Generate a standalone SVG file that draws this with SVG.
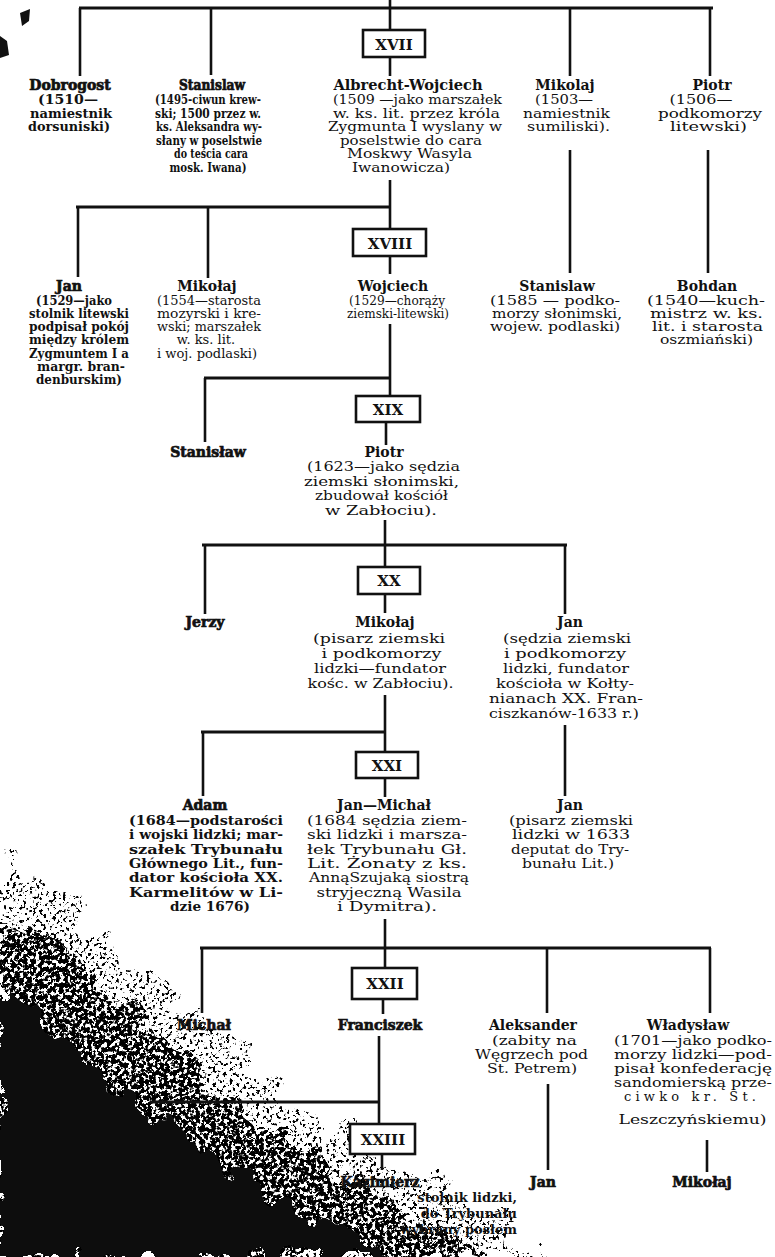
<svg xmlns="http://www.w3.org/2000/svg" width="775" height="1257" viewBox="0 0 775 1257">
<defs>
<style>
.ln{stroke:#111;stroke-width:2.6;fill:none}
.hz{stroke-width:3.2}
.box rect{fill:#fff;stroke:#111;stroke-width:2.6}
.box text{font-family:"DejaVu Serif","Liberation Serif",serif;font-weight:bold;font-size:15px;text-anchor:middle;fill:#111}
.nm{font-family:"DejaVu Serif","Liberation Serif",serif;font-weight:bold;font-size:14px;text-anchor:middle;fill:#111}
.hv{stroke:#111;stroke-width:0.7}
.d{font-family:"DejaVu Serif","Liberation Serif",serif;font-size:13px;text-anchor:middle;fill:#111}
.dh{font-weight:bold}
</style>
<filter id="sparse" x="-0.1" y="-0.1" width="1.2" height="1.2">
<feTurbulence type="fractalNoise" baseFrequency="0.035" numOctaves="2" seed="2" result="low"/>
<feDisplacementMap in="SourceGraphic" in2="low" scale="70" xChannelSelector="R" yChannelSelector="G" result="shape"/>
<feTurbulence type="fractalNoise" baseFrequency="0.3" numOctaves="3" seed="9" result="hi"/>
<feColorMatrix in="hi" type="matrix" values="0 0 0 0 0  0 0 0 0 0  0 0 0 0 0  16 0 0 0 -9.3" result="dots"/>
<feComposite in="dots" in2="shape" operator="in"/>
</filter>
<filter id="dense" x="-0.1" y="-0.1" width="1.2" height="1.2">
<feTurbulence type="fractalNoise" baseFrequency="0.04" numOctaves="2" seed="5" result="low"/>
<feDisplacementMap in="SourceGraphic" in2="low" scale="60" xChannelSelector="R" yChannelSelector="G" result="shape"/>
<feTurbulence type="fractalNoise" baseFrequency="0.25" numOctaves="3" seed="4" result="hi"/>
<feColorMatrix in="hi" type="matrix" values="0 0 0 0 0  0 0 0 0 0  0 0 0 0 0  16 0 0 0 -7.2" result="dots"/>
<feComposite in="dots" in2="shape" operator="in"/>
</filter>
<filter id="rough" x="-0.1" y="-0.1" width="1.2" height="1.2">
<feTurbulence type="fractalNoise" baseFrequency="0.05" numOctaves="2" seed="3" result="t"/>
<feDisplacementMap in="SourceGraphic" in2="t" scale="45" xChannelSelector="R" yChannelSelector="G"/>
</filter>
</defs>
<rect width="775" height="1257" fill="#fff"/>

<g id="scan-smudge">
<path d="M0 860 L50 895 L110 945 L170 995 L240 1055 L300 1105 L380 1155 L470 1205 L545 1257 L0 1257 Z" fill="#000" filter="url(#sparse)"/>
<path d="M0 915 L60 955 L120 1005 L190 1065 L260 1125 L340 1175 L430 1225 L490 1257 L0 1257 Z" fill="#000" filter="url(#dense)"/>
<path d="M0 985 L60 1035 L120 1090 L200 1150 L280 1200 L360 1240 L410 1257 L0 1257 Z" fill="#0d0d0d" filter="url(#rough)"/>
<path d="M20 13 L30 9 L29 21 L22 26 Z M0 36 L7 41 L9 55 L0 58 Z" fill="#111"/>
</g>

<g id="connectors">
<line class="ln" x1="390" y1="0" x2="390" y2="30"/>
<line class="ln hz" x1="79" y1="8" x2="713" y2="8"/>
<line class="ln" x1="80" y1="8" x2="80" y2="76"/>
<line class="ln" x1="211" y1="8" x2="211" y2="75"/>
<line class="ln" x1="570" y1="9" x2="570" y2="76"/>
<line class="ln" x1="710" y1="9" x2="710" y2="76"/>
<line class="ln" x1="390" y1="57" x2="390" y2="76"/>
<line class="ln" x1="390" y1="180" x2="390" y2="229"/>
<line class="ln" x1="570" y1="150" x2="570" y2="273"/>
<line class="ln" x1="708" y1="150" x2="708" y2="273"/>
<line class="ln hz" x1="76" y1="207" x2="390" y2="207"/>
<line class="ln" x1="78" y1="207" x2="78" y2="277"/>
<line class="ln" x1="208" y1="207" x2="208" y2="278"/>
<line class="ln" x1="390" y1="256" x2="390" y2="274"/>
<line class="ln" x1="390" y1="324" x2="390" y2="396"/>
<line class="ln hz" x1="204" y1="378" x2="390" y2="378"/>
<line class="ln" x1="205" y1="378" x2="205" y2="442"/>
<line class="ln" x1="386" y1="422" x2="386" y2="445"/>
<line class="ln" x1="385" y1="520" x2="385" y2="567"/>
<line class="ln hz" x1="202" y1="545" x2="567" y2="545"/>
<line class="ln" x1="205" y1="545" x2="205" y2="614"/>
<line class="ln" x1="565" y1="545" x2="565" y2="614"/>
<line class="ln" x1="385" y1="594" x2="385" y2="613"/>
<line class="ln" x1="385" y1="695" x2="385" y2="752"/>
<line class="ln hz" x1="201" y1="732" x2="386" y2="732"/>
<line class="ln" x1="203" y1="732" x2="203" y2="796"/>
<line class="ln" x1="565" y1="725" x2="565" y2="796"/>
<line class="ln" x1="385" y1="778" x2="385" y2="797"/>
<line class="ln" x1="385" y1="919" x2="385" y2="968"/>
<line class="ln hz" x1="200" y1="948" x2="711" y2="948"/>
<line class="ln" x1="202" y1="948" x2="202" y2="1013"/>
<line class="ln" x1="547" y1="948" x2="547" y2="1013"/>
<line class="ln" x1="710" y1="948" x2="710" y2="1013"/>
<line class="ln" x1="383" y1="999" x2="383" y2="1014"/>
<line class="ln" x1="379" y1="1036" x2="379" y2="1124"/>
<line class="ln hz" x1="150" y1="1102" x2="380" y2="1102"/>
<line class="ln" x1="382" y1="1154" x2="382" y2="1170"/>
<line class="ln" x1="548" y1="1084" x2="548" y2="1170"/>
<line class="ln" x1="707" y1="1140" x2="707" y2="1172"/>
</g>

<g id="gen-XVII" class="box"><rect x="363" y="30" width="62" height="27"/><text x="394" y="50">XVII</text></g>
<g id="gen-XVIII" class="box"><rect x="353" y="229" width="73" height="27"/><text x="390" y="249">XVIII</text></g>
<g id="gen-XIX" class="box"><rect x="356" y="396" width="64" height="26"/><text x="388" y="415">XIX</text></g>
<g id="gen-XX" class="box"><rect x="358" y="567" width="62" height="27"/><text x="389" y="586">XX</text></g>
<g id="gen-XXI" class="box"><rect x="356" y="752" width="62" height="26"/><text x="387" y="771">XXI</text></g>
<g id="gen-XXII" class="box"><rect x="352" y="968" width="65" height="31"/><text x="385" y="989">XXII</text></g>
<g id="gen-XXIII" class="box"><rect x="350" y="1124" width="65" height="30"/><text x="383" y="1145">XXIII</text></g>

<g id="dobrogost">
<text class="nm hv" x="70" y="90">Dobrogost</text>
<text class="d dh" x="68" y="104" textLength="60" lengthAdjust="spacingAndGlyphs">(1510—</text>
<text class="d dh" x="71" y="117.5" textLength="82" lengthAdjust="spacingAndGlyphs">namiestnik</text>
<text class="d dh" x="69" y="131" textLength="82" lengthAdjust="spacingAndGlyphs">dorsuniski)</text>
</g>
<g id="stanislaw-1">
<text class="nm hv" x="212" y="90" textLength="66" lengthAdjust="spacingAndGlyphs">Stanislaw</text>
<text class="d dh" x="208" y="104" textLength="106" lengthAdjust="spacingAndGlyphs">(1495-ciwun krew-</text>
<text class="d dh" x="208" y="117.5" textLength="106" lengthAdjust="spacingAndGlyphs">ski; 1500 przez w.</text>
<text class="d dh" x="209" y="131" textLength="106" lengthAdjust="spacingAndGlyphs">ks. Aleksandra wy-</text>
<text class="d dh" x="209" y="144.5" textLength="106" lengthAdjust="spacingAndGlyphs">słany w poselstwie</text>
<text class="d dh" x="211" y="158" textLength="74" lengthAdjust="spacingAndGlyphs">do teścia cara</text>
<text class="d dh" x="208" y="171.5" textLength="77" lengthAdjust="spacingAndGlyphs">mosk. Iwana)</text>
</g>
<g id="albrecht-wojciech">
<text class="nm" x="408" y="90" textLength="149" lengthAdjust="spacingAndGlyphs">Albrecht-Wojciech</text>
<text class="d" x="417.5" y="104" textLength="169" lengthAdjust="spacingAndGlyphs">(1509 —jako marszałek</text>
<text class="d" x="416.5" y="117.5" textLength="167" lengthAdjust="spacingAndGlyphs">w. ks. lit. przez króla</text>
<text class="d" x="415" y="131" textLength="174" lengthAdjust="spacingAndGlyphs">Zygmunta I wyslany w</text>
<text class="d" x="411" y="144.5" textLength="142" lengthAdjust="spacingAndGlyphs">poselstwie do cara</text>
<text class="d" x="409.5" y="158" textLength="125" lengthAdjust="spacingAndGlyphs">Moskwy Wasyla</text>
<text class="d" x="401" y="171.5" textLength="98" lengthAdjust="spacingAndGlyphs">Iwanowicza)</text>
</g>
<g id="mikolaj-1">
<text class="nm" x="565" y="90">Mikolaj</text>
<text class="d" x="564" y="104" textLength="58" lengthAdjust="spacingAndGlyphs">(1503—</text>
<text class="d" x="566.5" y="117.5" textLength="87" lengthAdjust="spacingAndGlyphs">namiestnik</text>
<text class="d" x="568.5" y="131" textLength="83" lengthAdjust="spacingAndGlyphs">sumiliski).</text>
</g>
<g id="piotr-1">
<text class="nm" x="712" y="90">Piotr</text>
<text class="d" x="701" y="104" textLength="63" lengthAdjust="spacingAndGlyphs">(1506—</text>
<text class="d" x="710" y="117.5" textLength="104" lengthAdjust="spacingAndGlyphs">podkomorzy</text>
<text class="d" x="708.5" y="131" textLength="77" lengthAdjust="spacingAndGlyphs">litewski)</text>
</g>

<g id="jan-2">
<text class="nm hv" x="69" y="291">Jan</text>
<text class="d dh" x="74" y="304.5" textLength="76" lengthAdjust="spacingAndGlyphs">(1529—jako</text>
<text class="d dh" x="79" y="317.8" textLength="100" lengthAdjust="spacingAndGlyphs">stolnik litewski</text>
<text class="d dh" x="79" y="331.1" textLength="100" lengthAdjust="spacingAndGlyphs">podpisał pokój</text>
<text class="d dh" x="79" y="344.4" textLength="100" lengthAdjust="spacingAndGlyphs">między królem</text>
<text class="d dh" x="79" y="357.7" textLength="100" lengthAdjust="spacingAndGlyphs">Zygmuntem I a</text>
<text class="d dh" x="81" y="371" textLength="88" lengthAdjust="spacingAndGlyphs">margr. bran-</text>
<text class="d dh" x="79" y="384.3" textLength="86" lengthAdjust="spacingAndGlyphs">denburskim)</text>
</g>
<g id="mikolaj-2">
<text class="nm" x="207" y="291">Mikołaj</text>
<text class="d" x="209" y="304.5" textLength="104" lengthAdjust="spacingAndGlyphs">(1554—starosta</text>
<text class="d" x="209" y="317.8" textLength="104" lengthAdjust="spacingAndGlyphs">mozyrski i kre-</text>
<text class="d" x="209" y="331.1" textLength="104" lengthAdjust="spacingAndGlyphs">wski; marszałek</text>
<text class="d" x="206" y="344.4">w. ks. lit.</text>
<text class="d" x="207" y="357.7" textLength="100" lengthAdjust="spacingAndGlyphs">i woj. podlaski)</text>
</g>
<g id="wojciech">
<text class="nm" x="393" y="291">Wojciech</text>
<text class="d" x="397" y="304.5" textLength="96" lengthAdjust="spacingAndGlyphs">(1529—chorąży</text>
<text class="d" x="398" y="317.8" textLength="102" lengthAdjust="spacingAndGlyphs">ziemski-litewski)</text>
</g>
<g id="stanislaw-2">
<text class="nm" x="557" y="291">Stanislaw</text>
<text class="d" x="555" y="304.5" textLength="130" lengthAdjust="spacingAndGlyphs">(1585 — podko-</text>
<text class="d" x="557" y="317.8" textLength="130" lengthAdjust="spacingAndGlyphs">morzy słonimski,</text>
<text class="d" x="555" y="331.1" textLength="130" lengthAdjust="spacingAndGlyphs">wojew. podlaski)</text>
</g>
<g id="bohdan">
<text class="nm" x="707" y="291">Bohdan</text>
<text class="d" x="706" y="304.5" textLength="118" lengthAdjust="spacingAndGlyphs">(1540—kuch-</text>
<text class="d" x="706.5" y="317.8" textLength="113" lengthAdjust="spacingAndGlyphs">mistrz w. ks.</text>
<text class="d" x="707.5" y="331.1" textLength="111" lengthAdjust="spacingAndGlyphs">lit. i starosta</text>
<text class="d" x="706.5" y="344.4" textLength="93" lengthAdjust="spacingAndGlyphs">oszmiański)</text>
</g>

<g id="stanislaw-3">
<text class="nm hv" x="208" y="457">Stanisław</text>
</g>
<g id="piotr-3">
<text class="nm" x="384" y="457">Piotr</text>
<text class="d" x="383.5" y="471" textLength="153" lengthAdjust="spacingAndGlyphs">(1623—jako sędzia</text>
<text class="d" x="381.5" y="485.5" textLength="155" lengthAdjust="spacingAndGlyphs">ziemski słonimski,</text>
<text class="d" x="381.5" y="500" textLength="133" lengthAdjust="spacingAndGlyphs">zbudował kościół</text>
<text class="d" x="381" y="514.5" textLength="112" lengthAdjust="spacingAndGlyphs">w Zabłociu).</text>
</g>

<g id="jerzy">
<text class="nm hv" x="205" y="627">Jerzy</text>
</g>
<g id="mikolaj-20">
<text class="nm" x="385" y="627">Mikołaj</text>
<text class="d" x="379" y="643" textLength="132" lengthAdjust="spacingAndGlyphs">(pisarz ziemski</text>
<text class="d" x="381.5" y="658" textLength="120" lengthAdjust="spacingAndGlyphs">i podkomorzy</text>
<text class="d" x="380" y="673" textLength="132" lengthAdjust="spacingAndGlyphs">lidzki—fundator</text>
<text class="d" x="380.5" y="688" textLength="146" lengthAdjust="spacingAndGlyphs">kośc. w Zabłociu).</text>
</g>
<g id="jan-20">
<text class="nm" x="570" y="627">Jan</text>
<text class="d" x="567" y="643" textLength="128" lengthAdjust="spacingAndGlyphs">(sędzia ziemski</text>
<text class="d" x="565" y="658" textLength="122" lengthAdjust="spacingAndGlyphs">i podkomorzy</text>
<text class="d" x="566" y="673" textLength="126" lengthAdjust="spacingAndGlyphs">lidzki, fundator</text>
<text class="d" x="565" y="688" textLength="138" lengthAdjust="spacingAndGlyphs">kościoła w Kołty-</text>
<text class="d" x="566" y="703" textLength="154" lengthAdjust="spacingAndGlyphs">nianach XX. Fran-</text>
<text class="d" x="564" y="718" textLength="150" lengthAdjust="spacingAndGlyphs">ciszkanów-1633 r.)</text>
</g>

<g id="adam">
<text class="nm hv" x="205" y="810">Adam</text>
<text class="d dh" x="206" y="825" textLength="154" lengthAdjust="spacingAndGlyphs">(1684—podstarości</text>
<text class="d dh" x="206" y="839.3" textLength="154" lengthAdjust="spacingAndGlyphs">i wojski lidzki; mar-</text>
<text class="d dh" x="206" y="853.6" textLength="154" lengthAdjust="spacingAndGlyphs">szałek Trybunału</text>
<text class="d dh" x="206" y="867.9" textLength="154" lengthAdjust="spacingAndGlyphs">Głównego Lit., fun-</text>
<text class="d dh" x="206" y="882.2" textLength="154" lengthAdjust="spacingAndGlyphs">dator kościoła XX.</text>
<text class="d dh" x="206" y="896.5" textLength="154" lengthAdjust="spacingAndGlyphs">Karmelitów w Li-</text>
<text class="d dh" x="210" y="910.8" textLength="80" lengthAdjust="spacingAndGlyphs">dzie 1676)</text>
</g>
<g id="jan-michal">
<text class="nm" x="384" y="810">Jan—Michał</text>
<text class="d" x="387" y="825" textLength="160" lengthAdjust="spacingAndGlyphs">(1684 sędzia ziem-</text>
<text class="d" x="387" y="839.3" textLength="160" lengthAdjust="spacingAndGlyphs">ski lidzki i marsza-</text>
<text class="d" x="387" y="853.6" textLength="160" lengthAdjust="spacingAndGlyphs">łek Trybunału Gł.</text>
<text class="d" x="387" y="867.9" textLength="160" lengthAdjust="spacingAndGlyphs">Lit. Żonaty z ks.</text>
<text class="d" x="389" y="882.2" textLength="160" lengthAdjust="spacingAndGlyphs">AnnąSzujaką siostrą</text>
<text class="d" x="389" y="896.5" textLength="145" lengthAdjust="spacingAndGlyphs">stryjeczną Wasila</text>
<text class="d" x="387" y="910.8" textLength="100" lengthAdjust="spacingAndGlyphs">i Dymitra).</text>
</g>
<g id="jan-21">
<text class="nm" x="570" y="810">Jan</text>
<text class="d" x="571" y="825" textLength="124" lengthAdjust="spacingAndGlyphs">(pisarz ziemski</text>
<text class="d" x="571" y="839.3" textLength="118" lengthAdjust="spacingAndGlyphs">lidzki w 1633</text>
<text class="d" x="570" y="853.6" textLength="118" lengthAdjust="spacingAndGlyphs">deputat do Try-</text>
<text class="d" x="568" y="867.9" textLength="92" lengthAdjust="spacingAndGlyphs">bunału Lit.)</text>
</g>

<g id="michal">
<text class="nm hv" x="204" y="1030">Michał</text>
</g>
<g id="franciszek">
<text class="nm hv" x="380" y="1030">Franciszek</text>
</g>
<g id="aleksander">
<text class="nm" x="533" y="1030">Aleksander</text>
<text class="d" x="534.5" y="1044.5" textLength="85" lengthAdjust="spacingAndGlyphs">(zabity na</text>
<text class="d" x="531.5" y="1058.5" textLength="113" lengthAdjust="spacingAndGlyphs">Węgrzech pod</text>
<text class="d" x="532" y="1072.5" textLength="90" lengthAdjust="spacingAndGlyphs">St. Petrem)</text>
</g>
<g id="wladyslaw">
<text class="nm" x="688" y="1030">Władysław</text>
<text class="d" x="693" y="1044.5" textLength="158" lengthAdjust="spacingAndGlyphs">(1701—jako podko-</text>
<text class="d" x="693" y="1058.5" textLength="158" lengthAdjust="spacingAndGlyphs">morzy lidzki—pod-</text>
<text class="d" x="693" y="1072.5" textLength="158" lengthAdjust="spacingAndGlyphs">pisał konfederację</text>
<text class="d" x="693" y="1086.5" textLength="158" lengthAdjust="spacingAndGlyphs">sandomierską prze-</text>
<text class="d" x="690" y="1100.5" textLength="132" lengthAdjust="spacing">ciwko kr. St.</text>
<text class="d" x="692.5" y="1124" textLength="148" lengthAdjust="spacingAndGlyphs">Leszczyńskiemu)</text>
</g>

<g id="kazimierz">
<text class="nm hv" x="380" y="1187">Kazimierz</text>
<text class="d dh" x="517" y="1202" style="text-anchor:end">stolnik lidzki,</text>
<text class="d dh" x="517" y="1218" style="text-anchor:end">do Trybunału</text>
<text class="d dh" x="517" y="1234" style="text-anchor:end">wybrany posłem</text>
</g>
<g id="jan-23">
<text class="nm hv" x="543" y="1187">Jan</text>
</g>
<g id="mikolaj-23">
<text class="nm hv" x="702" y="1187">Mikołaj</text>
</g>
</svg>
